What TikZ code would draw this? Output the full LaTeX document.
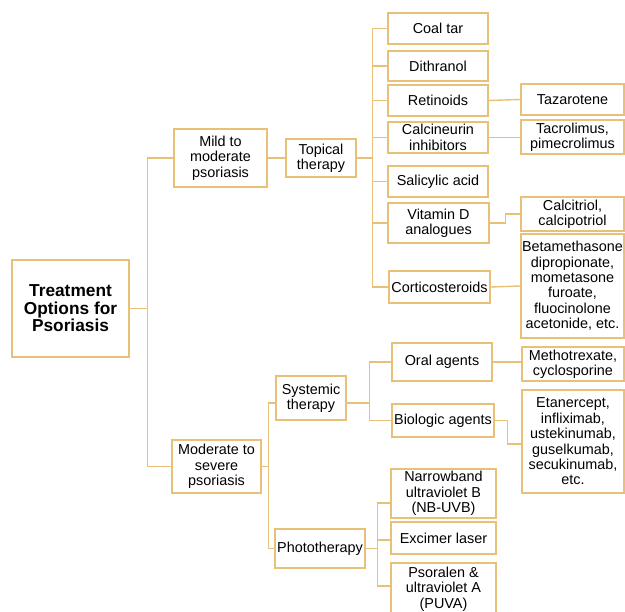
\documentclass[tikz,border=0pt]{standalone}
\usepackage{fontspec}
\setmainfont{Liberation Sans}
\definecolor{gold}{HTML}{E8C077}
\tikzset{
  box/.style={draw=gold, line width=1.5pt, fill=white, align=center, inner sep=0pt,
    font=\fontsize{14.4}{15.4}\selectfont},
  link/.style={draw=gold, line width=1.4pt},
}
\begin{document}
\begin{tikzpicture}[x=1pt,y=-1pt]
\useasboundingbox (0,0) rectangle (625,612);
\clip (0,0) rectangle (625,612);
% level 0
\node[box, minimum width=117, minimum height=97, font=\fontsize{17.3}{17.6}\selectfont\bfseries] (root) at (70.5,308.5) {Treatment\\Options for\\Psoriasis};
% level 1
\node[box, minimum width=93, minimum height=58] (mild) at (220.5,158) {Mild to\\moderate\\psoriasis};
\node[box, minimum width=89, minimum height=53] (mod) at (216.5,466.5) {Moderate to\\severe\\psoriasis};
% level 2
\node[box, minimum width=70, minimum height=38] (top) at (321,158) {Topical\\therapy};
\node[box, minimum width=70, minimum height=44] (sys) at (311,398) {Systemic\\therapy};
\node[box, minimum width=90, minimum height=39] (pho) at (320,548.5) {Phototherapy};
% topical children
\node[box, minimum width=100, minimum height=31] (coal) at (438,28.5) {Coal tar};
\node[box, minimum width=100, minimum height=30] (dith) at (438,66) {Dithranol};
\node[box, minimum width=100, minimum height=31] (ret) at (438,100.5) {Retinoids};
\node[box, minimum width=100, minimum height=31] (calc) at (438,137.5) {Calcineurin\\inhibitors};
\node[box, minimum width=100, minimum height=31] (sal) at (438,181.5) {Salicylic acid};
\node[box, minimum width=101, minimum height=40] (vitd) at (438.5,223) {Vitamin D\\analogues};
\node[box, minimum width=101, minimum height=32] (cort) at (439.5,287) {Corticosteroids};
% topical grandchildren
\node[box, minimum width=103, minimum height=31] (taz) at (572.5,99.5) {Tazarotene};
\node[box, minimum width=103, minimum height=34] (tac) at (572.5,137) {Tacrolimus,\\pimecrolimus};
\node[box, minimum width=103, minimum height=34] (cal) at (572.5,214) {Calcitriol,\\calcipotriol};
\node[box, minimum width=103, minimum height=104] (bet) at (572.5,286) {Betamethasone\\dipropionate,\\mometasone\\furoate,\\fluocinolone\\acetonide, etc.};
% systemic children
\node[box, minimum width=100, minimum height=38] (oral) at (442,362) {Oral agents};
\node[box, minimum width=102, minimum height=33] (bio) at (443,420.5) {Biologic agents};
\node[box, minimum width=102, minimum height=34] (met) at (573,364) {Methotrexate,\\cyclosporine};
\node[box, minimum width=102, minimum height=103] (eta) at (573,441.5) {Etanercept,\\infliximab,\\ustekinumab,\\guselkumab,\\secukinumab,\\etc.};
% phototherapy children
\node[box, minimum width=105, minimum height=49] (nb) at (443.5,493.5) {Narrowband\\ultraviolet B\\(NB-UVB)};
\node[box, minimum width=105, minimum height=32] (exc) at (443.5,538) {Excimer laser};
\node[box, minimum width=105, minimum height=52] (pso) at (443.5,589) {Psoralen \&\\ultraviolet A\\(PUVA)};
% connectors
\draw[link] (root.east) -- ++(18,0) |- (mild.west);
\draw[link] (root.east) ++(18,0) |- (mod.west);
\draw[link] (mild.east) -- (top.west);
\foreach \n in {coal,dith,ret,calc,sal,vitd,cort}
  \draw[link] (top.east) -- ++(16,0) |- (\n.west);
\draw[link] (ret.east) -- (taz.west);
\draw[link] (calc.east) -- (calc.east -| tac.west);
\draw[link] (vitd.east) -- ++(16,0) |- (cal.west);
\draw[link] (cort.east) -- (bet.west);
\draw[link] (mod.east) -- ++(7,0) |- ([yshift=-5pt]sys.west);
\draw[link] (mod.east) ++(7,0) |- (pho.west);
\draw[link] ([yshift=-5pt]sys.east) -- ++(23,0) |- (oral.west);
\draw[link] ([yshift=-5pt]sys.east) ++(23,0) |- (bio.west);
\draw[link] (oral.east) -- (oral.east -| met.west);
\draw[link] (bio.east) -- ++(13,0) |- ([yshift=-2.5pt]eta.west);
\draw[link] (pho.east) -- ++(12,0) |- ([yshift=-9.5pt]nb.west);
\draw[link] (pho.east) ++(12,0) |- ([yshift=-2pt]exc.west);
\draw[link] (pho.east) ++(12,0) |- ([yshift=3pt]pso.west);
\end{tikzpicture}
\end{document}
